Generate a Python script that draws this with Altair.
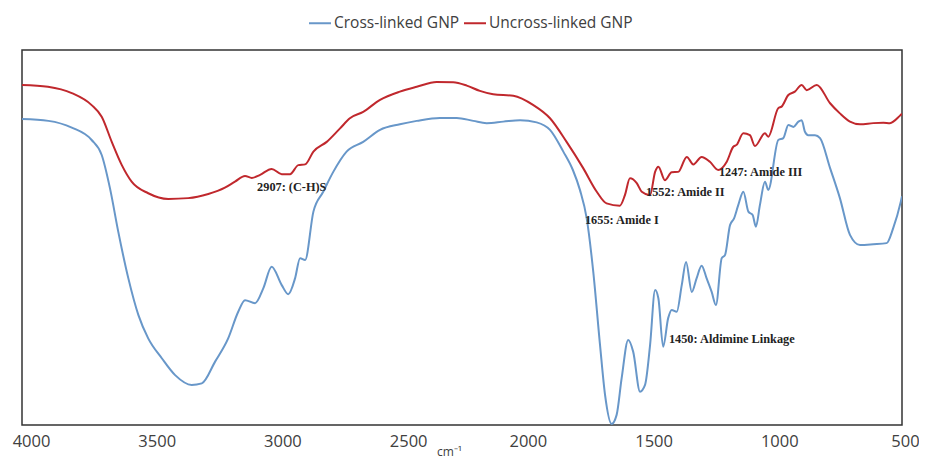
import altair as alt
import pandas as pd

# Uncross-linked GNP (red)
wn_red = [4000, 3897, 3802, 3723, 3683, 3643, 3603, 3564, 3498, 3418, 3339, 3259, 3193, 3153, 3113, 3086,
          3053, 3007, 2967, 2934, 2901, 2874, 2841, 2788, 2735, 2696, 2643, 2576, 2497, 2430, 2351, 2285,
          2231, 2179, 2126, 2046, 1966, 1900, 1834, 1768, 1714, 1675, 1622, 1602, 1582, 1555, 1535, 1502,
          1482, 1469, 1443, 1416, 1390, 1356, 1330, 1297, 1264, 1231, 1197, 1171, 1158, 1131, 1105, 1085,
          1045, 1032, 992, 979, 952, 926, 899, 879, 839, 786, 747, 707, 667, 614, 574, 548, 508, 500]
t_red = [90.7, 90.2, 88.5, 85.3, 82.2, 75.5, 69.3, 64.9, 61.8, 60.3, 60.5, 61.6, 63.3, 64.9, 66.4, 65.9,
         66.7, 68.3, 66.9, 66.9, 69.3, 69.5, 72.9, 75.5, 79.1, 81.8, 83.5, 86.7, 88.9, 90.2, 91.5, 91.4,
         90.5, 89.1, 88.2, 87.8, 85.3, 81.8, 75.5, 68.5, 62.2, 59.1, 58.5, 61.3, 65.8, 64.5, 62.2, 61.3,
         67.5, 68.9, 65.3, 67.4, 67.5, 71.5, 69.5, 71.5, 70.2, 68.0, 70.2, 74.2, 74.7, 77.8, 77.3, 74.4,
         77.8, 76.9, 84.5, 84.9, 88.0, 88.9, 90.7, 89.3, 90.7, 85.8, 83.1, 80.9, 80.2, 80.5, 80.6, 80.5, 82.5, 83.0]

# Cross-linked GNP (blue)
wn_blue = [4000, 3895, 3802, 3723, 3683, 3650, 3617, 3577, 3537, 3498, 3444, 3391, 3325, 3285, 3232, 3180,
           3140, 3113, 3073, 3040, 3007, 2967, 2941, 2914, 2894, 2874, 2841, 2802, 2762, 2709, 2643, 2576,
           2497, 2430, 2338, 2271, 2205, 2152, 2086, 2019, 1953, 1900, 1847, 1809, 1781, 1754, 1728, 1701,
           1681, 1655, 1635, 1615, 1589, 1569, 1542, 1522, 1502, 1482, 1469, 1450, 1430, 1416, 1396, 1376,
           1359, 1336, 1317, 1297, 1277, 1257, 1240, 1217, 1204, 1184, 1168, 1151, 1131, 1111, 1094, 1081,
           1065, 1045, 1032, 992, 972, 952, 932, 912, 899, 886, 873, 846, 826, 786, 747, 707, 667, 614,
           561, 535, 505, 500]
t_blue = [81.6, 81.1, 79.3, 76.0, 72.0, 63.1, 51.5, 39.1, 29.3, 23.1, 17.8, 13.3, 10.7, 11.1, 16.9, 23.1,
          30.2, 33.3, 32.5, 36.5, 42.2, 37.3, 34.9, 39.1, 44.5, 44.0, 56.9, 62.2, 67.5, 72.9, 75.5, 78.7,
          80.2, 81.1, 81.9, 81.9, 81.1, 80.5, 80.9, 81.3, 80.7, 78.7, 72.9, 68.0, 62.7, 55.1, 40.9, 21.3,
          8.0, 0.3, 2.7, 12.5, 22.7, 19.5, 8.9, 10.7, 21.3, 36.0, 33.8, 20.9, 28.5, 30.7, 30.2, 37.3,
          43.5, 35.5, 39.1, 42.5, 39.1, 35.5, 32.0, 44.5, 45.3, 53.3, 55.1, 58.7, 62.2, 56.9, 56.0, 52.9,
          58.7, 64.9, 62.7, 76.0, 76.5, 80.0, 79.5, 80.9, 81.3, 78.2, 77.3, 77.3, 76.5, 68.5, 60.5, 50.7,
          48.0, 48.2, 48.5, 52.5, 59.5, 61.0]

series = ["Cross-linked GNP", "Uncross-linked GNP"]
colors = ["#6897c9", "#c0282d"]

ann_text = ["2907: (C-H)S", "1655: Amide I", "1552: Amide II", "1247: Amide III", "1450: Aldimine Linkage"]
ann_wn = [3065, 1761, 1518, 1228, 1427]
ann_t = [63.5, 54.7, 62.2, 67.5, 22.9]

x_ticks = [4000, 3500, 3000, 2500, 2000, 1500, 1000, 500]

df = pd.concat([
    pd.DataFrame({"wn": wn_blue, "t": t_blue, "series": series[0]}),
    pd.DataFrame({"wn": wn_red, "t": t_red, "series": series[1]}),
])
ann = pd.DataFrame({"label": ann_text, "wn": ann_wn, "t": ann_t})

xscale = alt.Scale(domain=[500, 4000], reverse=True, nice=False, zero=False)
yscale = alt.Scale(domain=[0, 100], nice=False, zero=False)

lines = alt.Chart(df).mark_line(strokeWidth=2, interpolate="monotone", clip=True).encode(
    x=alt.X("wn:Q", scale=xscale,
            axis=alt.Axis(values=x_ticks, format="d", title="cm⁻¹", grid=False, ticks=False, domain=False,
                          labelFont="Open Sans", labelFontSize=16.5, labelColor="#404040",
                          labelPadding=8, labelFlush=False,
                          labelOffset={"condition": {"test": "datum.value >= 2500", "value": 9},
                                       "value": 3},
                          titleFont="Open Sans", titleFontSize=12, titleFontWeight="normal",
                          titleColor="#404040", titleX=427, titleY=30,
                          titleBaseline="alphabetic")),
    y=alt.Y("t:Q", scale=yscale, axis=None),
    color=alt.Color("series:N", scale=alt.Scale(domain=series, range=colors),
                    legend=alt.Legend(title=None, orient="none", legendX=286, legendY=-39,
                                      direction="horizontal", symbolType="stroke", symbolSize=484,
                                      symbolStrokeWidth=2, labelFont="Open Sans", labelFontSize=15.5,
                                      labelColor="#404040", columnPadding=0, labelOffset=2)),
    order=alt.Order("wn:Q"),
)

texts = alt.Chart(ann).mark_text(align="left", baseline="middle", font="Liberation Serif",
                                 fontWeight="bold", fontSize=12.3, color="#222222").encode(
    x=alt.X("wn:Q", scale=xscale),
    y=alt.Y("t:Q", scale=yscale),
    text="label:N",
)

chart = alt.layer(lines, texts).properties(
    width=880, height=375,
    autosize=alt.AutoSizeParams(type="none"),
    padding={"left": 14, "top": 42, "right": 17, "bottom": 35},
).configure_view(stroke="#333333", strokeWidth=1.5)

chart.save("out.html", embed_options={"renderer": "svg", "actions": False})
